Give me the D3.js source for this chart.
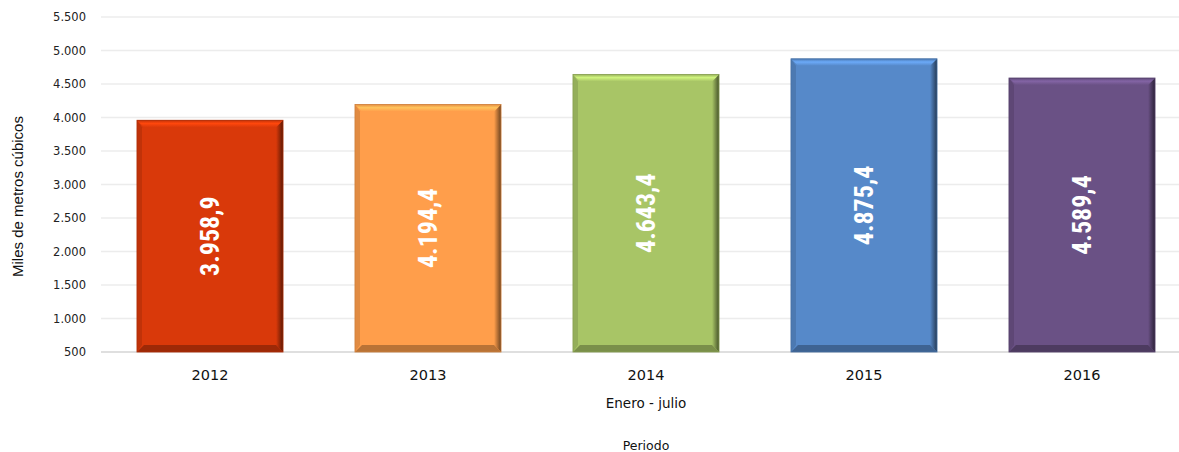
<!DOCTYPE html>
<html>
<head>
<meta charset="utf-8">
<script src="https://cdn.jsdelivr.net/npm/d3@7"></script>
<style>
  body { margin: 0; background: #fff; }
  svg { display: block; }
</style>
</head>
<body>
<div id="chart"></div>
<script>
// data
const years = ["2012", "2013", "2014", "2015", "2016"]
const volumes = [3958.9, 4194.4, 4643.4, 4875.4, 4589.4]
const barColors = ["#D9390A", "#FF9E4B", "#A8C566", "#5689C9", "#6A5185"]
const yTicks = [500, 1000, 1500, 2000, 2500, 3000, 3500, 4000, 4500, 5000, 5500]

const width = 1179, height = 452
const plot = { left: 101, right: 1191, top: 17, bottom: 352 }

const fmtTick = d => d3.format(",")(d).replace(/,/g, ".")
const fmtVal = d => d3.format(",.1f")(d).replace(/,/g, "#").replace(".", ",").replace(/#/g, ".")

const svg = d3.select("#chart").append("svg")
  .attr("width", width)
  .attr("height", height)

const x = d3.scaleBand()
  .domain(years)
  .range([plot.left, plot.right])
  .paddingInner(0.33)
  .paddingOuter(0.165)

const y = d3.scaleLinear()
  .domain([500, 5500])
  .range([plot.bottom, plot.top])

// gradients for the bevelled look
const defs = svg.append("defs")
barColors.forEach((c, i) => {
  const g = defs.append("linearGradient").attr("id", "side" + i)
    .attr("x1", 0).attr("x2", 1).attr("y1", 0).attr("y2", 0)
  g.append("stop").attr("offset", "0%").attr("stop-color", c)
  g.append("stop").attr("offset", "100%").attr("stop-color", d3.color(c).darker(2.4))
  const t = defs.append("linearGradient").attr("id", "top" + i)
    .attr("x1", 0).attr("x2", 0).attr("y1", 0).attr("y2", 1)
  t.append("stop").attr("offset", "0%").attr("stop-color", d3.color(c).darker(0.3))
  t.append("stop").attr("offset", "45%").attr("stop-color", d3.color(c).brighter(0.6))
  t.append("stop").attr("offset", "100%").attr("stop-color", c)
})

// gridlines
svg.append("g")
  .selectAll("line")
  .data(yTicks)
  .join("line")
  .attr("x1", plot.left)
  .attr("x2", plot.right)
  .attr("y1", d => y(d))
  .attr("y2", d => y(d))
  .attr("stroke", d => d === 500 ? "#d4d4d4" : "#ececec")
  .attr("stroke-width", 1.3)

// y axis labels
const yAxis = svg.append("g")
  .attr("transform", `translate(${plot.left - 15},0)`)
  .call(d3.axisLeft(y).tickValues(yTicks).tickFormat(fmtTick).tickSize(0).tickPadding(0))
yAxis.select(".domain").remove()
yAxis.selectAll("text")
  .attr("font-family", "'DejaVu Sans', Verdana, sans-serif")
  .attr("font-size", 11.5)
  .attr("fill", "#222")

// bars
const bev = 7
const bars = svg.append("g")
  .selectAll("g")
  .data(years)
  .join("g")

bars.each(function (yr, i) {
  const g = d3.select(this)
  const x0 = x(yr), x1 = x(yr) + x.bandwidth()
  const y0 = y(volumes[i]), y1 = y(500)
  const c = barColors[i]
  g.append("rect")
    .attr("x", x0).attr("y", y0)
    .attr("width", x1 - x0).attr("height", y1 - y0)
    .attr("fill", c)
  // right side shading
  g.append("polygon")
    .attr("points", [[x1 - bev, y0 + bev], [x1, y0], [x1, y1], [x1 - bev, y1 - bev]].join(" "))
    .attr("fill", `url(#side${i})`)
  // left side
  g.append("polygon")
    .attr("points", [[x0, y0], [x0 + bev - 2, y0 + bev], [x0 + bev - 2, y1 - bev], [x0, y1]].join(" "))
    .attr("fill", d3.color(c).darker(0.35))
  // bottom
  g.append("polygon")
    .attr("points", [[x0, y1], [x0 + bev, y1 - bev], [x1 - bev, y1 - bev], [x1, y1]].join(" "))
    .attr("fill", d3.color(c).darker(0.9))
  // top
  g.append("polygon")
    .attr("points", [[x0, y0], [x1, y0], [x1 - bev, y0 + bev], [x0 + bev, y0 + bev]].join(" "))
    .attr("fill", `url(#top${i})`)
  g.append("rect")
    .attr("x", x0).attr("y", y0)
    .attr("width", x1 - x0).attr("height", y1 - y0)
    .attr("fill", "none")
    .attr("stroke", d3.color(c).darker(0.6))
    .attr("stroke-width", 0.8)
  // value label
  const cx = x0 + x.bandwidth() / 2, cy = (y0 + y1) / 2
  g.append("text")
    .attr("transform", `translate(${cx},${cy}) rotate(-90)`)
    .attr("text-anchor", "middle")
    .attr("dominant-baseline", "central")
    .attr("font-family", "'Liberation Sans Narrow', 'Roboto Condensed', 'Liberation Sans', sans-serif")
    .attr("font-weight", "bold")
    .attr("font-size", 26)
    .attr("fill", "#fff")
    .text(fmtVal(volumes[i]))
})

// x axis labels
svg.append("g")
  .selectAll("text")
  .data(years)
  .join("text")
  .attr("x", d => x(d) + x.bandwidth() / 2)
  .attr("y", 380)
  .attr("text-anchor", "middle")
  .attr("font-family", "'DejaVu Sans', Verdana, sans-serif")
  .attr("font-size", 14.5)
  .attr("fill", "#111")
  .text(d => d)

svg.append("text")
  .attr("x", x("2014") + x.bandwidth() / 2)
  .attr("y", 408)
  .attr("text-anchor", "middle")
  .attr("font-family", "'DejaVu Sans', Verdana, sans-serif")
  .attr("font-size", 13.5)
  .attr("fill", "#111")
  .text("Enero - julio")

svg.append("text")
  .attr("x", x("2014") + x.bandwidth() / 2)
  .attr("y", 450)
  .attr("text-anchor", "middle")
  .attr("font-family", "'DejaVu Sans', Verdana, sans-serif")
  .attr("font-size", 12.5)
  .attr("fill", "#111")
  .text("Periodo")

svg.append("text")
  .attr("transform", `translate(23,${(plot.top + plot.bottom) / 2 + 12}) rotate(-90)`)
  .attr("text-anchor", "middle")
  .attr("font-family", "'Liberation Sans Narrow', 'Liberation Sans', sans-serif")
  .attr("font-size", 15)
  .attr("fill", "#111")
  .text("Miles de metros cúbicos")
</script>
</body>
</html>
